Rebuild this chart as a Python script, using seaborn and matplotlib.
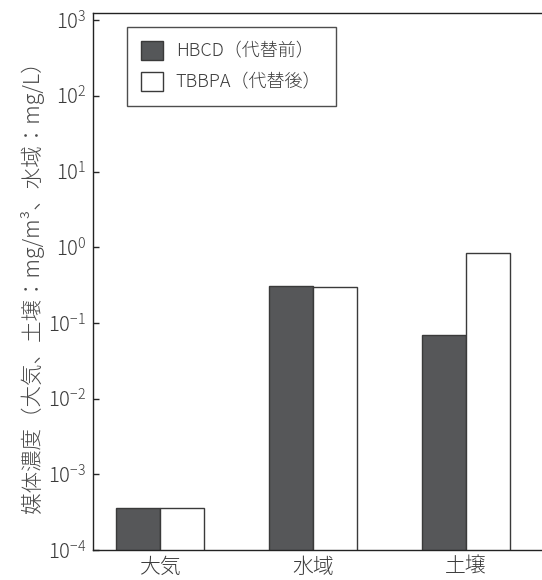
import matplotlib
matplotlib.use("Agg")
import matplotlib.pyplot as plt
import seaborn as sns
import pandas as pd
import numpy as np
from matplotlib.patches import Patch

categories = ["大気", "水域", "土壌"]
series = ["HBCD（代替前）", "TBBPA（代替後）"]
hbcd = [3.6e-4, 0.31, 0.069]
tbbpa = [3.6e-4, 0.30, 0.83]
ytick_vals = [1e-4, 1e-3, 1e-2, 1e-1, 1e0, 1e1, 1e2, 1e3]

df = pd.DataFrame({
    "cat": categories * 2,
    "series": [series[0]] * 3 + [series[1]] * 3,
    "value": hbcd + tbbpa,
})

sns.set_style("ticks")
plt.rcParams["font.family"] = ["Noto Sans CJK JP", "DejaVu Sans"]
plt.rcParams["font.weight"] = "light"
plt.rcParams["mathtext.default"] = "regular"

fig = plt.figure(figsize=(5.42, 5.8), dpi=100)
ax = fig.add_axes([0.172, 0.0517, 0.828, 0.9253])

colors = {series[0]: "#555759", series[1]: "#ffffff"}
sns.barplot(data=df, x="cat", y="value", hue="series", order=categories,
            hue_order=series, palette=colors, width=0.576, gap=0,
            edgecolor="#3a3a3a", linewidth=1.0, ax=ax, legend=False)

ax.set_yscale("log")
ax.set_ylim(1e-4, 10 ** 3.09)
ax.set_xlim(-0.44, 2.5)
ax.set_yticks(ytick_vals)
ax.yaxis.set_minor_locator(matplotlib.ticker.NullLocator())
ax.tick_params(axis="y", direction="in", length=4.5, width=1.0, labelsize=14.5,
               labelcolor="#3a3a3a", pad=5)
ax.tick_params(axis="x", length=0, labelsize=15, labelcolor="#3a3a3a", pad=4)
for s in ["left", "top", "bottom"]:
    ax.spines[s].set_color("#222222")
    ax.spines[s].set_linewidth(1.0)
ax.spines["right"].set_visible(False)
ax.set_xlabel("")
ax.set_ylabel("媒体濃度（大気、土壌：mg/m³、水域：mg/L）", fontsize=15.5,
              color="#4a4a4a", labelpad=3, fontweight="light")

handles = [Patch(facecolor="#555759", edgecolor="#3a3a3a", linewidth=1.0),
           Patch(facecolor="#ffffff", edgecolor="#3a3a3a", linewidth=1.0)]
leg = ax.legend(handles, series, loc="upper left", bbox_to_anchor=(0.075, 0.975),
                fontsize=13, frameon=True, fancybox=False, handlelength=1.2,
                handleheight=1.2, handletextpad=0.7, labelspacing=0.65,
                borderpad=0.8, borderaxespad=0)
leg.get_frame().set_edgecolor("#222222")
leg.get_frame().set_linewidth(1.0)
for t in leg.get_texts():
    t.set_color("#3a3a3a")

fig.savefig("out.png", dpi=100)
